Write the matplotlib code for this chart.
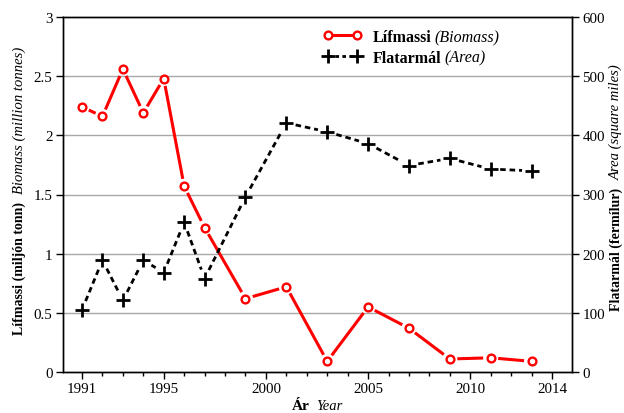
import matplotlib
matplotlib.use("Agg")
import matplotlib.pyplot as plt
import numpy as np
from matplotlib.ticker import MultipleLocator, FixedLocator

plt.rcParams["font.family"] = ["Liberation Serif", "DejaVu Serif"]

# Survey years and the two measured series
years = [1991, 1992, 1993, 1994, 1995, 1996, 1997, 1999, 2001, 2003, 2005, 2007, 2009, 2011, 2013]
biomass = [2.24, 2.16, 2.56, 2.19, 2.48, 1.57, 1.22, 0.62, 0.72, 0.09, 0.55, 0.37, 0.11, 0.12, 0.09]
area = [105, 189, 121, 189, 168, 253, 158, 296, 421, 406, 386, 349, 361, 343, 340]

year_ticks = [1991, 1995, 2000, 2005, 2010, 2014]
bio_ticks = [0, 0.5, 1, 1.5, 2, 2.5, 3]
bio_ticklabels = ["0", "0.5", "1", "1.5", "2", "2.5", "3"]
area_ticks = [0, 100, 200, 300, 400, 500, 600]

W, H = 624, 414
FS_TICK = 10.8
FS_LEG = 11.5
RED = "#ff0000"

fig = plt.figure(figsize=(W / 100, H / 100), dpi=100)
ax = fig.add_axes([63 / W, 1 - 373 / H, (572 - 63) / W, (373 - 18) / H])
ax2 = ax.twinx()

ax.set_xlim(1990.07, 2014.98)
ax.set_ylim(0, 3)
ax2.set_ylim(0, 600)

# horizontal reference lines
for v in bio_ticks[1:-1]:
    ax.axhline(v, color="#a8a8a8", lw=1.0, zorder=0)

for a in (ax, ax2):
    for s in a.spines.values():
        s.set_linewidth(1.0)
        s.set_color("black")

ax.xaxis.set_major_locator(FixedLocator(year_ticks))
ax.xaxis.set_minor_locator(MultipleLocator(1))
ax.set_yticks(bio_ticks)
ax.set_yticklabels(bio_ticklabels)
ax2.set_yticks(area_ticks)
ax.tick_params(axis="both", which="major", direction="out", length=5, width=1.0,
               labelsize=FS_TICK, pad=2.5)
ax.tick_params(axis="x", which="minor", direction="out", length=2.6, width=1.0)
ax2.tick_params(axis="y", which="major", direction="out", length=5, width=1.0,
                labelsize=FS_TICK, pad=2.5)


def gapped_line(axis, xs, ys, gap_px, **kw):
    """Connect consecutive points, leaving a gap of gap_px around each point."""
    tr = axis.transData
    pts = tr.transform(np.column_stack([xs, ys]))
    inv = tr.inverted()
    for p, q in zip(pts[:-1], pts[1:]):
        d = q - p
        n = np.hypot(*d)
        if n <= 2 * gap_px:
            continue
        u = d / n
        seg = inv.transform(np.vstack([p + u * gap_px, q - u * gap_px]))
        axis.plot(seg[:, 0], seg[:, 1], **kw)


gapped_line(ax, years, biomass, 7.5, color=RED, lw=2.2, solid_capstyle="butt", zorder=3)
ax.plot(years, biomass, ls="none", marker="o", ms=5.6, mew=1.7, mec=RED, mfc="white", zorder=4)

gapped_line(ax2, years, area, 9.5, color="black", lw=2.0, ls=(0, (2.0, 1.4)),
            dash_capstyle="butt", zorder=3)
ax2.plot(years, area, ls="none", marker="+", ms=10, mew=2.0, color="black", zorder=4)

# legend handles
h1, = ax2.plot([], [], color=RED, lw=2.2, marker="o", ms=5.6, mew=1.7, mec=RED, mfc="white")
h2, = ax2.plot([], [], color="black", lw=2.0, ls=(0, (1.3, 1.2)), marker="+", ms=10, mew=2.0)
leg = ax2.legend([h1, h2], ["Lífmassi", "Flatarmál"], loc="upper left",
                 bbox_to_anchor=(323 / W, 1 - 30 / H), bbox_transform=fig.transFigure,
                 frameon=False, numpoints=2, handlelength=2.4, handletextpad=0.7,
                 labelspacing=0.3, borderpad=0, borderaxespad=0,
                 prop={"weight": "bold", "size": FS_LEG})

fig.canvas.draw()
renderer = fig.canvas.get_renderer()

for txt, extra in zip(leg.get_texts(), ["(Biomass)", "(Area)"]):
    bb = txt.get_window_extent(renderer)
    fig.text((bb.x1 + 3) / W, (bb.y0 + bb.y1) / 2 / H, extra, style="italic",
             fontsize=FS_LEG, ha="left", va="center")


def two_part_label(cx, cy, bold, italic, rotation, gap=6, bsize=10.5, isize=10.5):
    """Place a bold + italic label centred on (cx, cy) in pixels from top-left."""
    t1 = fig.text(0, 0, bold, fontweight="bold", fontsize=bsize)
    t2 = fig.text(0, 0, italic, style="italic", fontsize=isize)
    w1 = t1.get_window_extent(renderer).width
    w2 = t2.get_window_extent(renderer).width
    total = w1 + gap + w2
    if rotation == 0:
        x0 = cx - total / 2
        t1.set_position((x0 / W, 1 - cy / H))
        t2.set_position(((x0 + w1 + gap) / W, 1 - cy / H))
        for t in (t1, t2):
            t.set_ha("left")
            t.set_va("center")
    else:
        y0 = (H - cy) - total / 2
        t1.set_position((cx / W, y0 / H))
        t2.set_position((cx / W, (y0 + w1 + gap) / H))
        for t in (t1, t2):
            t.set_rotation(90)
            t.set_rotation_mode("anchor")
            t.set_ha("left")
            t.set_va("center")


two_part_label(317, 407, "Ár", "Year", 0, gap=6, bsize=11, isize=10.5)
two_part_label(19, 191, "Lífmassi (miljón tonn)", "Biomass (million tonnes)", 90,
               gap=8, bsize=10, isize=10.5)
two_part_label(616, 188, "Flatarmál (fermílur)", "Area (square miles)", 90,
               gap=8, bsize=10, isize=10.5)

fig.savefig("out.png", dpi=100)
